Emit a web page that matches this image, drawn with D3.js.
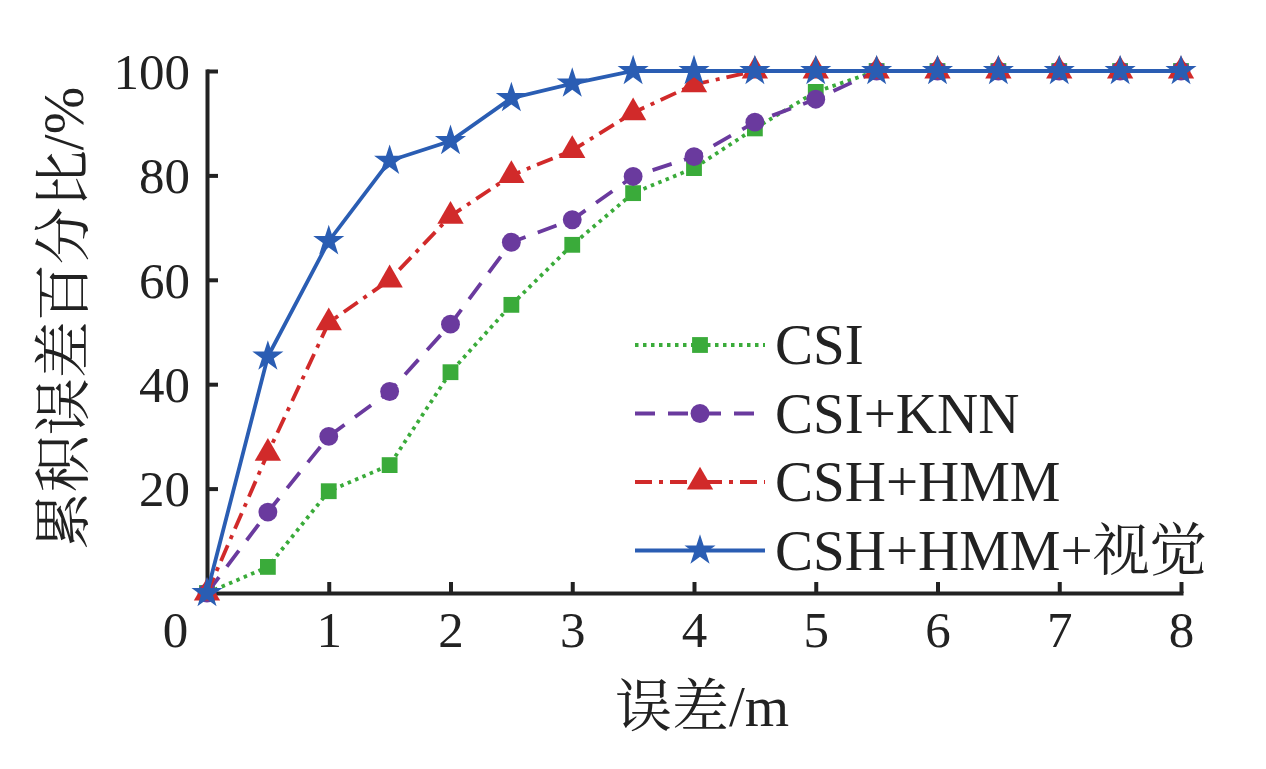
<!DOCTYPE html>
<html>
<head>
<meta charset="utf-8">
<script src="https://d3js.org/d3.v7.min.js"></script>
<style>
    body { margin: 0; background: #fff; }
    text { font-family: "Liberation Serif", "Noto Serif CJK SC", "Noto Sans CJK SC", serif; fill: #222; }
    .axis path, .axis line { stroke: #222; stroke-width: 4; }
</style>
</head>
<body>
<script>
// error in metres
const errors = [0, 0.5, 1, 1.5, 2, 2.5, 3, 3.5, 4, 4.5, 5, 5.5, 6, 6.5, 7, 7.5, 8];
// cumulative error percentage per method
const csi       = [0, 5, 19.5, 24.5, 42.3, 55.2, 66.7, 76.6, 81.4, 89, 96, 100, 100, 100, 100, 100, 100];
const csiKnn    = [0, 15.5, 30, 38.6, 51.5, 67.2, 71.5, 79.8, 83.6, 90.2, 94.6, 100, 100, 100, 100, 100, 100];
const cshHmm    = [0, 26.8, 51.8, 60, 72.2, 80, 84.8, 92, 97.4, 100, 100, 100, 100, 100, 100, 100, 100];
const cshHmmVis = [0, 45.3, 67.4, 82.8, 86.6, 94.8, 97.6, 100, 100, 100, 100, 100, 100, 100, 100, 100, 100];

const seriesNames = ["CSI", "CSI+KNN", "CSH+HMM", "CSH+HMM+视觉"];
const xTicks = [0, 1, 2, 3, 4, 5, 6, 7, 8];
const yTicks = [20, 40, 60, 80, 100];

const width = 1266, height = 769;
const margins = {top: 71, right: 85, bottom: 176, left: 207};
const chartWidth = width - margins.left - margins.right;
const chartHeight = height - margins.top - margins.bottom;

const styles = [
    {values: csi,       color: "#3aab3a", dash: "3.5,4.5", symbol: d3.symbolSquare,   size: 250},
    {values: csiKnn,    color: "#6a3a9e", dash: "20,13",   symbol: d3.symbolCircle,   size: 280},
    {values: cshHmm,    color: "#d12a2a", dash: "17,7,4,7", symbol: d3.symbolTriangle, size: 300},
    {values: cshHmmVis, color: "#2a5db3", dash: null,      symbol: d3.symbolStar,     size: 300}
];

const svg = d3.select("body").append("svg")
    .attr("width", width)
    .attr("height", height);

const xScale = d3.scaleLinear().domain([0, 8]).range([0, chartWidth]);
const yScale = d3.scaleLinear().domain([0, 100]).range([chartHeight, 0]);

let chartArea = svg.append("g")
    .attr("transform", `translate(${margins.left}, ${margins.top})`);

// axes, ticks pointing inside
let bottomAxis = d3.axisBottom(xScale).tickValues(xTicks).tickSize(-11).tickSizeOuter(0).tickPadding(18);
let xAxisG = chartArea.append("g")
    .attr("class", "axis")
    .attr("transform", `translate(0, ${chartHeight})`)
    .call(bottomAxis);
xAxisG.selectAll("text").style("font-size", "51px");
// origin label sits left of the corner
xAxisG.selectAll(".tick").filter(d => d === 0).select("line").remove();
xAxisG.selectAll(".tick").filter(d => d === 0).select("text").attr("x", -32);

let leftAxis = d3.axisLeft(yScale).tickValues(yTicks).tickSize(-11).tickSizeOuter(0).tickPadding(17);
let yAxisG = chartArea.append("g")
    .attr("class", "axis")
    .call(leftAxis);
yAxisG.selectAll("text").style("font-size", "51px").attr("dy", "0.34em");
xAxisG.select(".domain").attr("stroke-linecap", "square");
yAxisG.select(".domain").attr("stroke-linecap", "square");

let lineGen = d3.line()
    .x((d, i) => xScale(errors[i]))
    .y(d => yScale(d));

styles.forEach(s => {
    let g = chartArea.append("g");
    g.append("path")
        .datum(s.values)
        .attr("fill", "none")
        .attr("stroke", s.color)
        .attr("stroke-width", 3.8)
        .attr("stroke-dasharray", s.dash)
        .attr("d", lineGen);
    g.selectAll("path.marker").data(s.values)
        .join("path")
        .attr("class", "marker")
        .attr("transform", (d, i) => `translate(${xScale(errors[i])}, ${yScale(d)})`)
        .attr("d", d3.symbol().type(s.symbol).size(s.size))
        .attr("fill", s.color);
});

// legend
let legend = svg.append("g").attr("transform", "translate(635, 345)");
styles.forEach((s, i) => {
    let row = legend.append("g").attr("transform", `translate(0, ${i * 68.5})`);
    row.append("line")
        .attr("x1", 0).attr("x2", 130)
        .attr("stroke", s.color)
        .attr("stroke-width", 3.8)
        .attr("stroke-dasharray", s.dash);
    row.append("path")
        .attr("transform", "translate(65, 0)")
        .attr("d", d3.symbol().type(s.symbol).size(s.size))
        .attr("fill", s.color);
    row.append("text")
        .attr("x", 140)
        .attr("y", 19)
        .style("font-size", "57px")
        .text(seriesNames[i]);
});

// axis titles
svg.append("text")
    .attr("transform", "translate(70, 318) rotate(-90)")
    .attr("text-anchor", "middle")
    .attr("dominant-baseline", "middle")
    .style("font-size", "57px")
    .text("累积误差百分比/%");

svg.append("text")
    .attr("x", 702)
    .attr("y", 726)
    .attr("text-anchor", "middle")
    .style("font-size", "57px")
    .text("误差/m");
</script>
</body>
</html>
